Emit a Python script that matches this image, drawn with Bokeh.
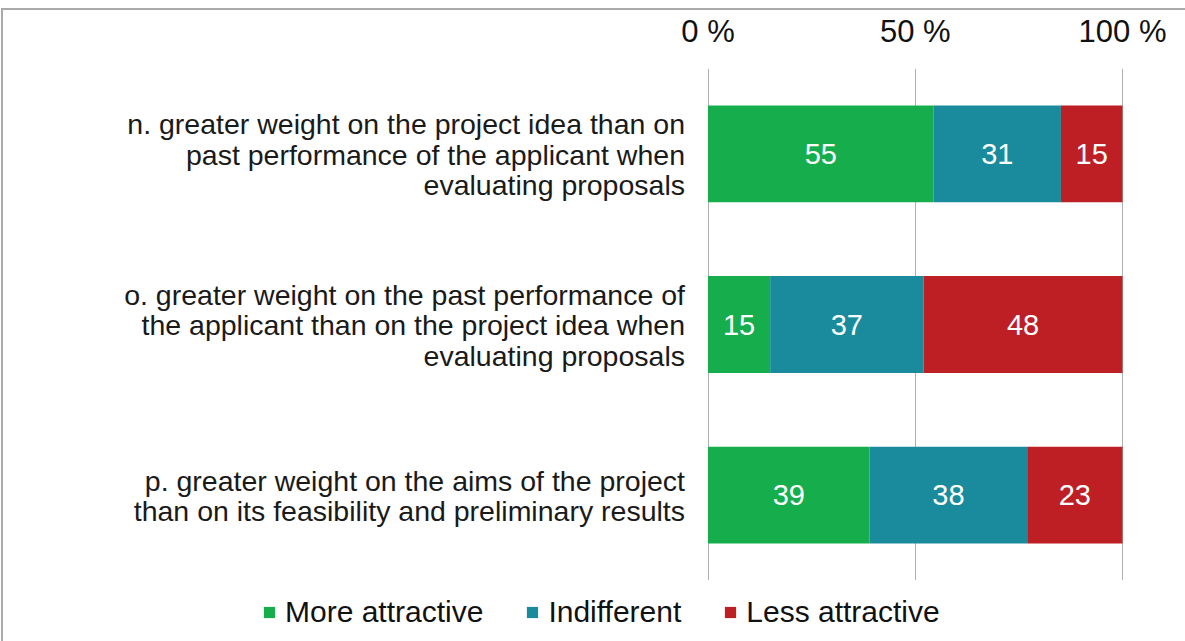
from bokeh.plotting import figure
from bokeh.layouts import column
from bokeh.models import (ColumnDataSource, FactorRange, Range1d, LinearAxis, FixedTicker,
                          Legend, LegendItem, CustomJSTickFormatter)
from bokeh.core.properties import value
from bokeh.embed import file_html
from bokeh.resources import INLINE

# ---- data ----
categories = ["n", "o", "p"]
category_labels = [
    "n. greater weight on the project idea than on\npast performance of the applicant when\nevaluating proposals",
    "o. greater weight on the past performance of\nthe applicant than on the project idea when\nevaluating proposals",
    "p. greater weight on the aims of the project\nthan on its feasibility and preliminary results",
]
series = ["More attractive", "Indifferent", "Less attractive"]
more_attractive = [55, 15, 39]
indifferent = [31, 37, 38]
less_attractive = [15, 48, 23]
tick_values = [0, 50, 100]
tick_labels = ["0 %", "50 %", "100 %"]

colors = ["#16AD4C", "#198B9C", "#BE1F25"]
FONT = "Liberation Sans"

# ---- layout (pixels) ----
ORIGIN_X, ORIGIN_Y = 3, 10      # page position of figure content (after border)
W = 1185 - ORIGIN_X
MAIN_H = 580 - ORIGIN_Y
LEG_H = 61
zero_px, full_px = 707.5, 1122.0
scale = (full_px - zero_px) / 100.0
x_start = -(zero_px - ORIGIN_X) / scale
x_end = 100 + (ORIGIN_X + W - full_px) / scale

vals = [more_attractive, indifferent, less_attractive]
totals = [sum(v[i] for v in vals) for i in range(len(categories))]

p = figure(width=W, height=MAIN_H, output_backend="svg", toolbar_location=None,
           y_range=FactorRange(factors=list(reversed(categories)), range_padding=0),
           x_range=Range1d(x_start, x_end),
           x_axis_location=None, y_axis_location=None,
           min_border_left=0, min_border_right=0, min_border_top=68 - ORIGIN_Y,
           min_border_bottom=0)
p.outline_line_color = None
p.background_fill_color = "white"
p.border_fill_color = "white"

# gridlines
p.xgrid.ticker = FixedTicker(ticks=tick_values)
p.xgrid.grid_line_color = "#b0b0b0"
p.xgrid.grid_line_width = 1
p.ygrid.grid_line_color = None

# top axis
ax = LinearAxis(ticker=FixedTicker(ticks=tick_values))
lbl_map = {str(t): l for t, l in zip(tick_values, tick_labels)}
ax.formatter = CustomJSTickFormatter(args=dict(m=lbl_map), code="return m[String(tick)] || '';")
ax.axis_line_color = None
ax.major_tick_line_color = None
ax.minor_tick_line_color = None
ax.major_tick_out = 0
ax.major_tick_in = 0
ax.major_label_standoff = 20
ax.major_label_text_font = FONT
ax.major_label_text_font_size = "31px"
ax.major_label_text_color = "#111111"
p.add_layout(ax, "above")

# bars
left = [0.0] * len(categories)
for name, v, c in zip(series, vals, colors):
    pct = [v[i] * 100.0 / totals[i] for i in range(len(categories))]
    right = [left[i] + pct[i] for i in range(len(categories))]
    src = ColumnDataSource(dict(y=categories, left=left, right=right,
                                mid=[(left[i] + right[i]) / 2 for i in range(len(categories))],
                                lab=[str(x) for x in v]))
    p.hbar(y="y", left="left", right="right", height=0.567, source=src,
           fill_color=c, line_color=None)
    p.text(x="mid", y="y", text="lab", source=src, text_color="white",
           text_font=value(FONT), text_font_size="29px",
           text_align="center", text_baseline="middle")
    left = right

# category labels
csrc = ColumnDataSource(dict(y=categories, x=[0] * len(categories), t=category_labels))
p.text(x="x", y="y", text="t", source=csrc, x_offset=-23, y_offset=1,
       text_align="right", text_baseline="middle", text_font=value(FONT),
       text_font_size="28.5px", text_color="#1a1a1a", text_line_height=0.95)

# legend strip below the chart (zero-area swatch glyphs only feed the legend)
lf = figure(width=W, height=LEG_H, output_backend="svg", toolbar_location=None,
            x_axis_location=None, y_axis_location=None,
            x_range=Range1d(0, 1), y_range=Range1d(0, 1),
            min_border=0)
lf.outline_line_color = None
lf.grid.grid_line_color = None
items = []
for name, c in zip(series, colors):
    ksrc = ColumnDataSource(dict(l=[0], r=[0], t=[0], b=[0]))
    dr = lf.quad(left="l", right="r", top="t", bottom="b", source=ksrc,
                 fill_color=c, line_color=None)
    items.append(LegendItem(label=name, renderers=[dr]))
legend = Legend(items=items, orientation="horizontal", location=(259, 12),
                label_text_font=FONT, label_text_font_size="30px", label_text_color="#111111",
                glyph_width=14, glyph_height=14, label_standoff=9, spacing=42,
                label_height=30, padding=0, margin=0, border_line_color=None,
                background_fill_alpha=0)
lf.add_layout(legend, "center")

layout = column(p, lf, spacing=0)
layout.styles = {"border-top": "2px solid #a9a9a9", "border-left": "2px solid #a9a9a9",
                 "margin-top": "8px", "margin-left": "1px"}

open("out.html", "w").write(file_html(layout, INLINE))
